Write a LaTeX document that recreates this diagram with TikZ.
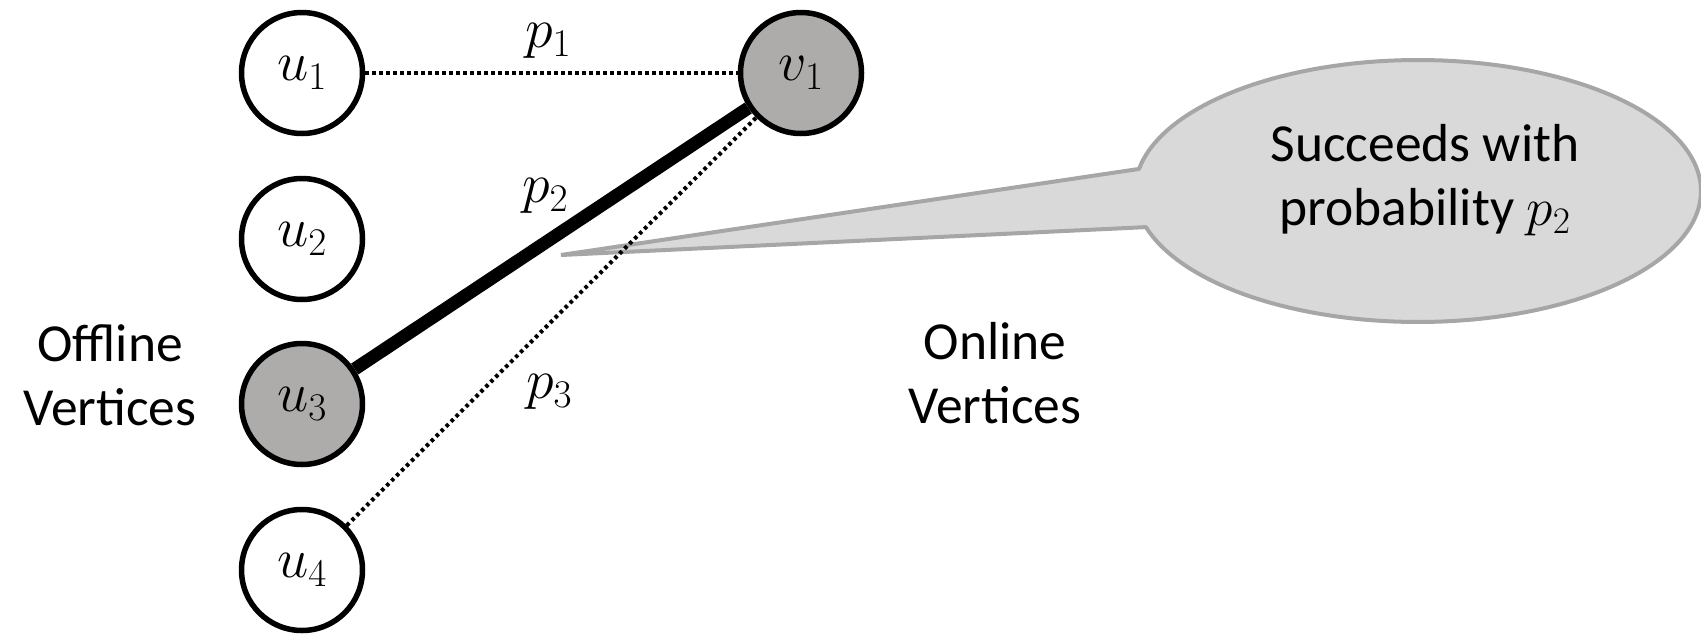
\RequirePackage{fix-cm}
\documentclass[tikz,border=0pt]{standalone}
\usepackage{fontspec}
\setmainfont{Carlito}
\definecolor{nodegray}{HTML}{AEABAB}
\definecolor{callfill}{HTML}{D9D9D9}
\definecolor{calldraw}{HTML}{A6A6A6}
\newcommand\mathsz{\fontsize{56}{66}\selectfont}
\newcommand\textsz{\fontsize{53.5}{64}\selectfont}
\begin{document}
\begin{tikzpicture}[x=1pt,y=-1pt,
  vert/.style={circle,draw=black,line width=5.5pt,minimum size=121pt,inner sep=0pt,font=\mathsz,fill=white},
  picked/.style={vert,fill=nodegray},
  dotline/.style={line width=4pt,dash pattern=on 3.5pt off 3.5pt},
  heavy/.style={line width=13pt},
  elab/.style={font=\mathsz,inner sep=0pt},
  caption/.style={font=\textsz,align=center,inner sep=0pt}]
\useasboundingbox (0,0) rectangle (1701,635);
% callout
\coordinate (tip) at (561,255);
\filldraw[fill=callfill,draw=calldraw,line width=4pt,line join=bevel]
  (tip) -- plot[domain=189.7:524,samples=150] ({1418+283*cos(\x)},{191+131*sin(\x)}) -- cycle;
\node[caption] (callout) at (1425,180) {Succeeds with\\probability $p_2$};
% vertices
\node[vert] (u1) at (302,73) {$u_1$};
\node[vert] (u2) at (302,239) {$u_2$};
\node[picked] (u3) at (302,404) {$u_3$};
\node[vert] (u4) at (302,570) {$u_4$};
\node[picked] (v1) at (801,73) {$v_1$};
% edges
\draw[dotline] (u1) -- (v1);
\draw[heavy] (u3) -- (v1);
\draw[dotline] (u4) -- (v1);
% edge labels
\node[elab] (p1) at (548,41) {$p_1$};
\node[elab] (p2) at (545,196) {$p_2$};
\node[elab] (p3) at (549,392) {$p_3$};
% captions
\node[caption] (offline) at (110,375) {Offline\\Vertices};
\node[caption] (online) at (995,373) {Online\\Vertices};
\end{tikzpicture}
\end{document}
